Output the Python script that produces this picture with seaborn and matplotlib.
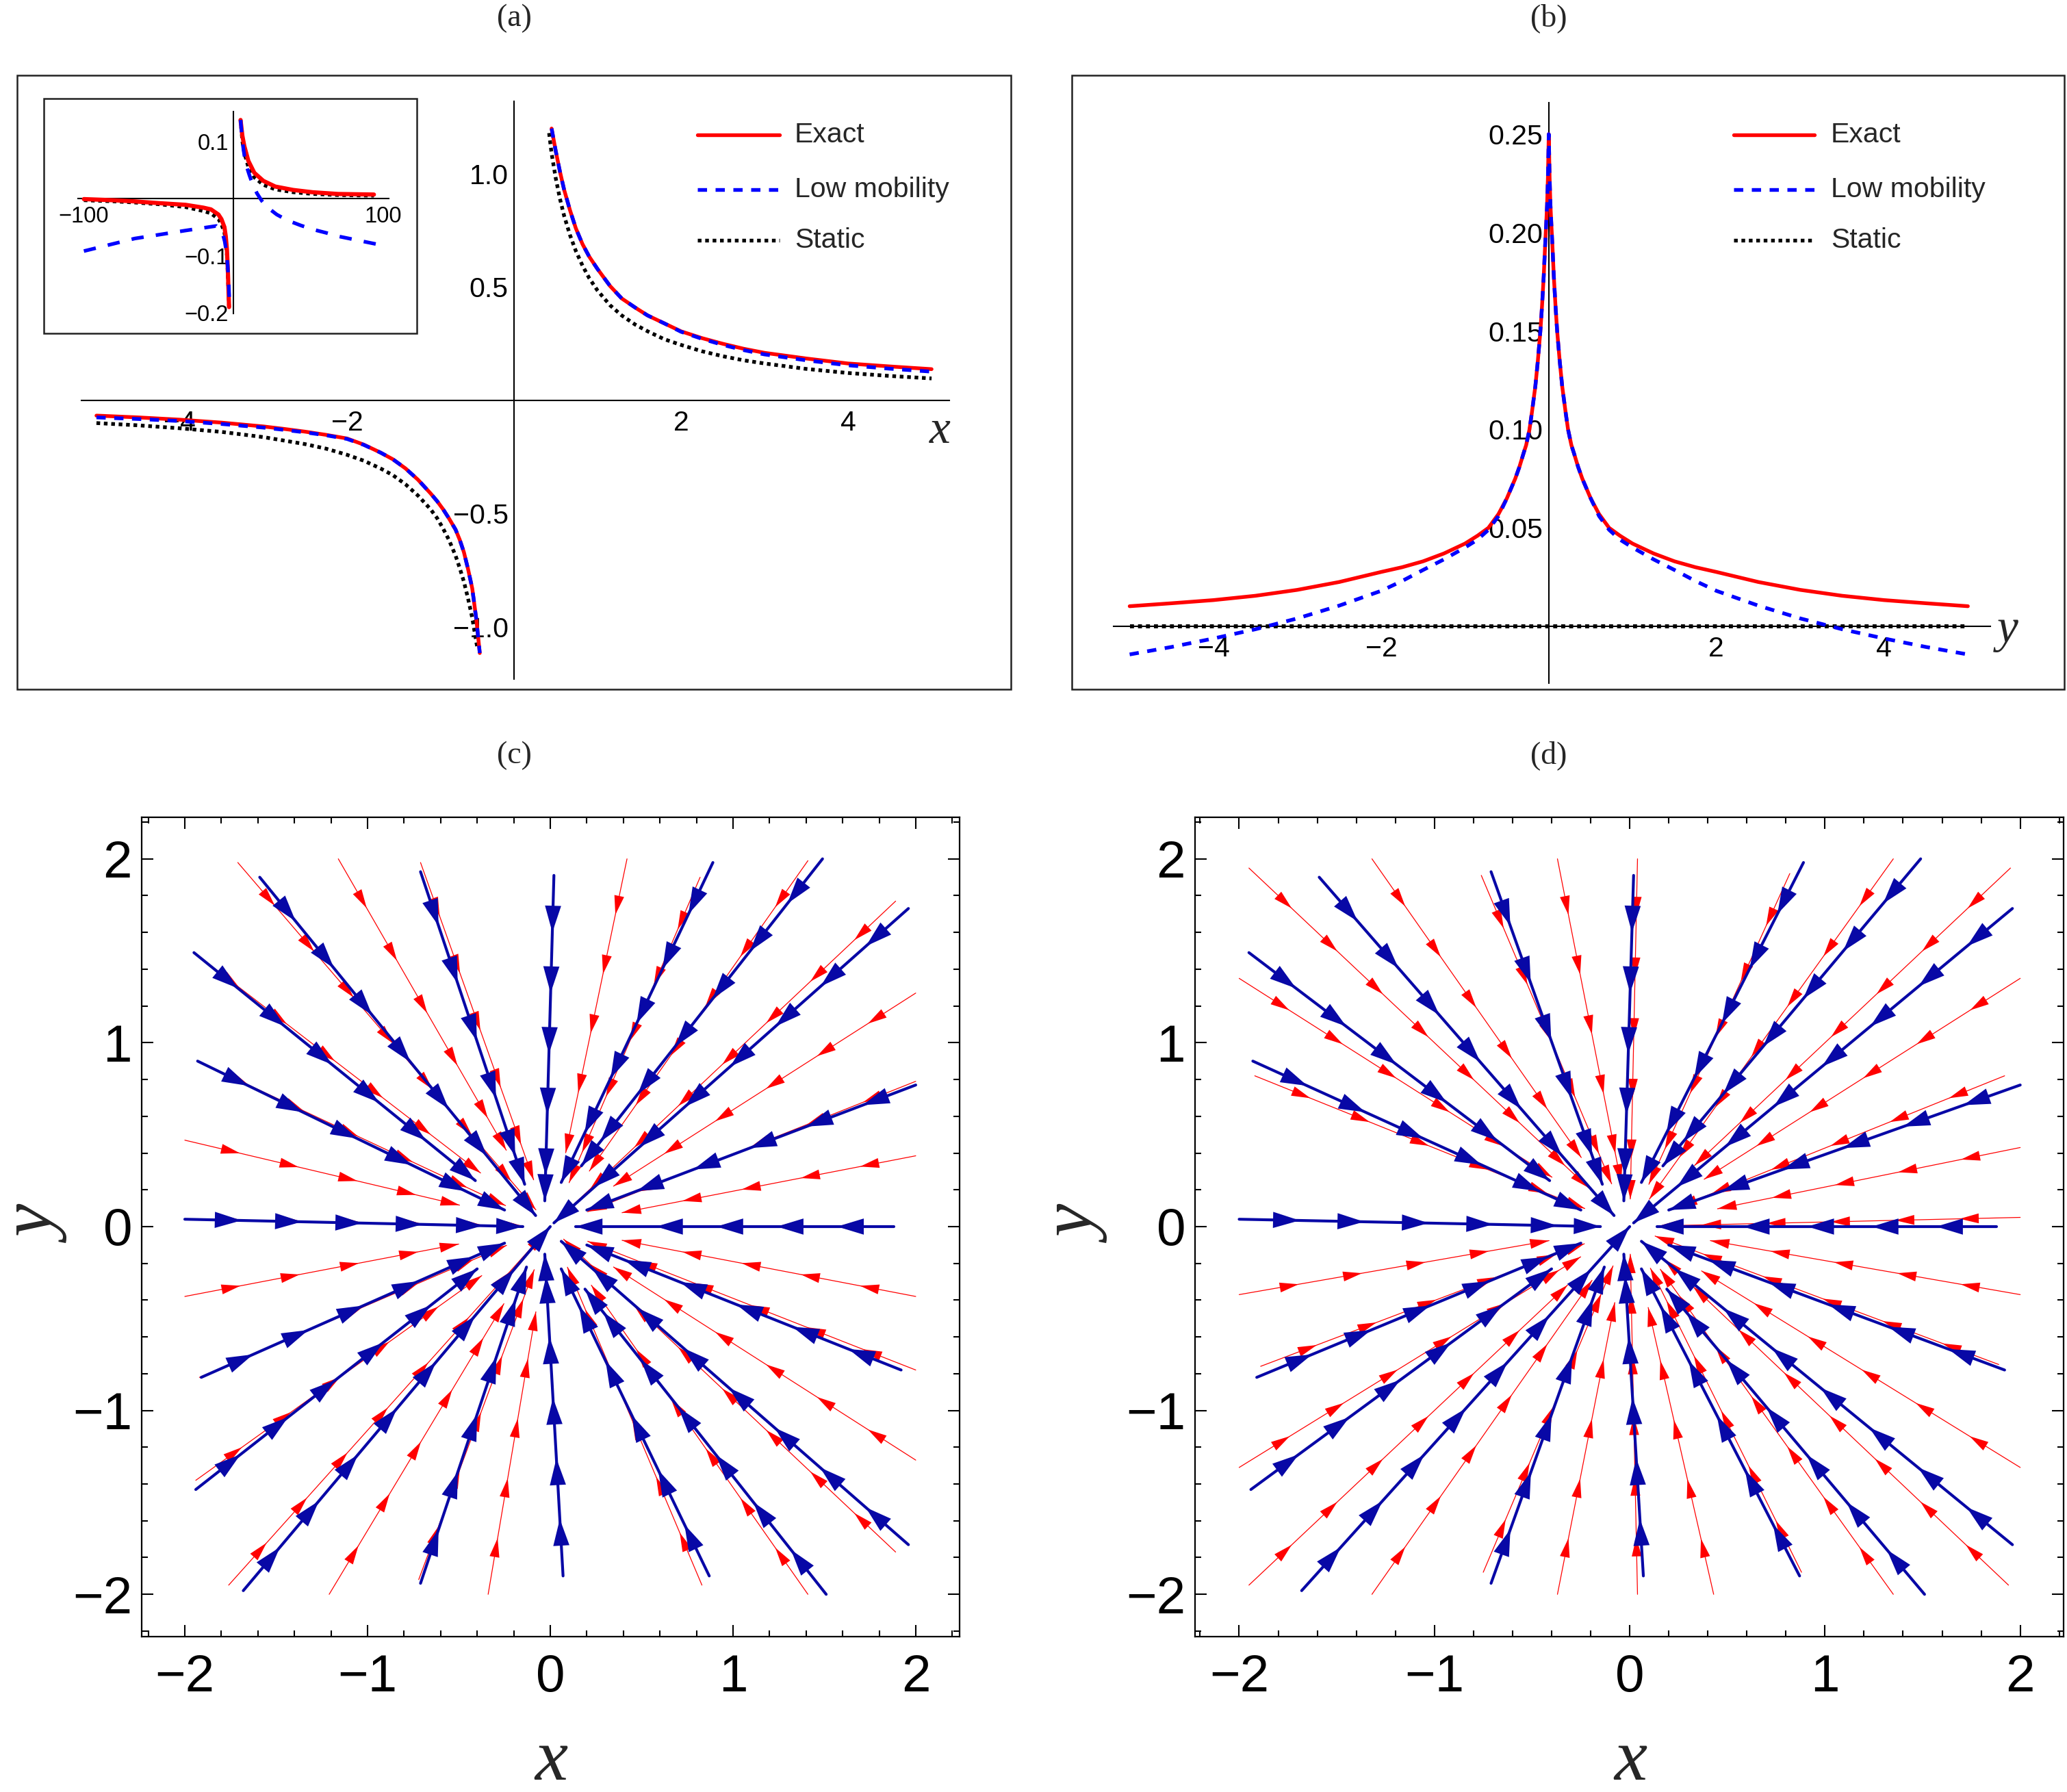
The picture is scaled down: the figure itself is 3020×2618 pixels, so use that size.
import numpy as np
import pandas as pd
import matplotlib
matplotlib.use("Agg")
import matplotlib.pyplot as plt
import seaborn as sns
from matplotlib.patches import Rectangle, ArrowStyle
from matplotlib.lines import Line2D
from matplotlib.ticker import FixedLocator

# ---------------- panel (a): main curves ----------------
a_pos_x = [0.45, 0.5, 0.55, 0.6, 0.67, 0.74, 0.82, 0.9, 1.0, 1.15, 1.29, 1.45, 1.6, 1.8, 2.0,
           2.25, 2.5, 2.75, 3.0, 3.5, 4.0, 4.5, 5.0]
a_exact_pos = [1.20, 1.10, 1.01, 0.93, 0.84, 0.76, 0.69, 0.635, 0.58, 0.505, 0.45, 0.41, 0.375, 0.34, 0.305,
               0.275, 0.25, 0.228, 0.21, 0.185, 0.163, 0.15, 0.138]
a_low_pos = [1.20, 1.10, 1.01, 0.93, 0.84, 0.76, 0.69, 0.635, 0.58, 0.505, 0.45, 0.41, 0.375, 0.34, 0.303,
             0.272, 0.245, 0.222, 0.203, 0.177, 0.155, 0.14, 0.127]
a_static_pos_x = [0.42, 0.45, 0.5, 0.55, 0.6, 0.67, 0.74, 0.82, 0.9, 1.0, 1.15, 1.29, 1.45, 1.6, 1.8, 2.0,
                  2.25, 2.5, 2.75, 3.0, 3.5, 4.0, 4.5, 5.0]
a_static_pos = [1.18, 1.09, 0.98, 0.89, 0.815, 0.73, 0.66, 0.595, 0.54, 0.485, 0.42, 0.375, 0.335, 0.305, 0.27, 0.245,
                0.217, 0.195, 0.177, 0.163, 0.139, 0.121, 0.108, 0.097]

a_neg_x = [-5.0, -4.5, -4.0, -3.5, -3.0, -2.75, -2.5, -2.25, -2.0, -1.8, -1.6, -1.45, -1.3, -1.15, -1.0,
           -0.92, -0.85, -0.78, -0.7, -0.65, -0.6, -0.55, -0.5, -0.45, -0.41]
a_exact_neg = [-0.067, -0.075, -0.085, -0.098, -0.115, -0.126, -0.138, -0.152, -0.168, -0.195, -0.23, -0.26, -0.30, -0.35, -0.41,
               -0.445, -0.48, -0.52, -0.57, -0.615, -0.67, -0.745, -0.83, -0.97, -1.115]
a_low_neg = [-0.075, -0.082, -0.091, -0.104, -0.12, -0.13, -0.141, -0.154, -0.17, -0.196, -0.23, -0.26, -0.30, -0.35, -0.41,
             -0.445, -0.48, -0.52, -0.57, -0.615, -0.67, -0.745, -0.83, -0.97, -1.115]
a_static_neg_x = [-5.0, -4.5, -4.0, -3.5, -3.0, -2.5, -2.25, -2.0, -1.8, -1.6, -1.45, -1.3, -1.15, -1.0,
                  -0.92, -0.85, -0.78, -0.7, -0.65, -0.6, -0.55, -0.5, -0.45, -0.435]
a_static_neg = [-0.10, -0.11, -0.123, -0.139, -0.162, -0.193, -0.213, -0.24, -0.266, -0.30, -0.33, -0.37, -0.42, -0.48,
                -0.52, -0.565, -0.615, -0.685, -0.74, -0.80, -0.875, -0.96, -1.07, -1.10]

# ---------------- panel (a): inset ----------------
in_pos_x = [4.8, 6, 7.3, 10, 14, 20, 28, 40, 53, 70, 94]
in_exact_pos = [0.1375, 0.11, 0.092, 0.066, 0.045, 0.031, 0.021, 0.015, 0.011, 0.008, 0.007]
in_static_pos = [0.1375, 0.10, 0.08, 0.055, 0.037, 0.024, 0.016, 0.011, 0.008, 0.006, 0.005]
in_neg_x = [-100, -80, -66, -50, -32, -20, -15, -10, -8, -6, -5.1, -4.3, -3.7, -2.9]
in_exact_neg = [-0.001, -0.003, -0.005, -0.008, -0.011, -0.016, -0.019, -0.028, -0.036, -0.050, -0.066, -0.09, -0.125, -0.19]
in_static_neg = [-0.003, -0.005, -0.007, -0.010, -0.015, -0.022, -0.026, -0.036, -0.045, -0.060, -0.076, -0.10, -0.135, -0.19]
in_low_pos_x = [4.8, 6, 7.3, 9, 10.7, 13, 15.8, 19, 22.6, 29, 36, 45, 53, 62, 70, 83, 96]
in_low_pos = [0.1375, 0.10, 0.076, 0.055, 0.041, 0.024, 0.009, -0.004, -0.015, -0.028, -0.038, -0.047, -0.054, -0.060, -0.066, -0.073, -0.080]
in_low_neg_x = [-100, -66, -32, -11.4, -8.5, -7.1, -5.8, -4.6, -3.8, -3.2, -2.5]
in_low_neg = [-0.092, -0.070, -0.056, -0.048, -0.055, -0.062, -0.075, -0.094, -0.118, -0.145, -0.19]

# ---------------- panel (b) ----------------
b_x = [-5.0, -4.5, -4.0, -3.5, -3.0, -2.5, -2.0, -1.75, -1.5, -1.25, -1.0, -0.85, -0.72, -0.6, -0.5, -0.4, -0.35,
       -0.3, -0.27, -0.23, -0.2, -0.16, -0.13, -0.1, -0.08, -0.06, -0.045, -0.03, -0.02, -0.01,
       0.0, 0.01, 0.02, 0.03, 0.045, 0.06, 0.08, 0.1, 0.13, 0.16, 0.2, 0.23, 0.27, 0.3,
       0.35, 0.4, 0.5, 0.6, 0.72, 0.85, 1.0, 1.25, 1.5, 1.75, 2.0, 2.5, 3.0, 3.5, 4.0, 4.5, 5.0]
b_exact = [0.0102, 0.0117, 0.0133, 0.0155, 0.0185, 0.0225, 0.0276, 0.030, 0.033, 0.037, 0.042, 0.046, 0.050, 0.057, 0.065, 0.075, 0.081,
           0.088, 0.092, 0.10, 0.109, 0.122, 0.135, 0.15, 0.163, 0.178, 0.192, 0.205, 0.214, 0.228,
           0.25, 0.228, 0.214, 0.205, 0.192, 0.178, 0.163, 0.15, 0.135, 0.122, 0.109, 0.10, 0.092, 0.088,
           0.081, 0.075, 0.065, 0.057, 0.050, 0.046, 0.042, 0.037, 0.033, 0.030, 0.0276, 0.0225, 0.0185, 0.0155, 0.0133, 0.0117, 0.0102]
b_low = [-0.0143, -0.0105, -0.0062, -0.0015, 0.004, 0.0105, 0.018, 0.023, 0.0286, 0.034, 0.040, 0.044, 0.049, 0.056, 0.065, 0.075, 0.081,
         0.088, 0.092, 0.10, 0.109, 0.122, 0.135, 0.15, 0.163, 0.178, 0.192, 0.205, 0.214, 0.228,
         0.25, 0.228, 0.214, 0.205, 0.192, 0.178, 0.163, 0.15, 0.135, 0.122, 0.109, 0.10, 0.092, 0.088,
         0.081, 0.075, 0.065, 0.056, 0.049, 0.044, 0.040, 0.034, 0.0286, 0.023, 0.018, 0.0105, 0.004, -0.0015, -0.0062, -0.0105, -0.0143]
b_static_x = [-5.0, 5.0]
b_static = [0.0, 0.0]

# ---------------- panels (c), (d): streamlines ----------------
# blue streamlines (same in both panels): outer start and inner end
blue_x0 = [-1.59, -0.71, 0.02, 0.89, 1.49, 1.96, 2.00, 1.88, 1.92, 1.96, 1.51, 0.87, 0.07, -0.71, -1.68, -1.94, -1.91, -2.00, -1.93, -1.95]
blue_y0 = [1.90, 1.93, 1.91, 1.98, 2.00, 1.73, 0.77, 0.00, -0.78, -1.73, -2.00, -1.90, -1.90, -1.94, -1.98, -1.43, -0.82, 0.04, 0.90, 1.49]
blue_x1 = [-0.08, -0.14, -0.03, 0.06, 0.17, 0.02, 0.20, 0.14, 0.20, 0.06, 0.19, 0.06, -0.03, -0.13, 0.00, -0.40, -0.25, -0.15, -0.25, -0.41]
blue_y1 = [0.06, 0.23, 0.14, 0.24, 0.33, 0.02, 0.09, 0.00, -0.10, -0.08, -0.34, -0.23, -0.15, -0.22, 0.00, -0.23, -0.09, 0.00, 0.09, 0.25]

# red streamlines (c): outer start and inner radius where they stop
red_c_x0 = [-1.71, -1.16, -0.71, 0.42, 0.82, 1.41, 1.89, 2.00, 2.00, 2.00, 1.88, 2.00, 2.00, 2.00, 1.89, 1.41, 0.83, -0.34, -1.21, -1.76, -1.94, -1.92, -2.00, -2.00, -2.00, -1.93, -1.95, -0.72]
red_c_y0 = [1.98, 2.00, 1.98, 2.00, 1.90, 1.99, 1.77, 1.27, 0.79, 0.385, 0.00, -0.38, -0.78, -1.27, -1.77, -2.00, -1.95, -2.00, -2.00, -1.95, -1.38, -0.82, -0.38, 0.04, 0.47, 0.90, 1.49, -1.92]
red_c_r1 = [0.12, 0.48, 0.27, 0.41, 0.26, 0.37, 0.05, 0.41, 0.22, 0.40, 0.14, 0.40, 0.22, 0.41, 0.10, 0.39, 0.24, 0.47, 0.49, 0.05, 0.46, 0.26, 0.51, 0.15, 0.51, 0.27, 0.48, 0.25]

# red streamlines (d)
red_d_x0 = [-1.95, -1.32, -0.76, -0.37, 0.04, 0.82, 1.35, 1.95, -2.00, -1.92, -2.00, -1.89, -2.00, 2.00, 1.92, 2.00, 2.00, 2.00, 1.89, 2.00, 1.94, -1.95, -1.32, -0.75, -0.37, 0.04, 0.43, 0.88, 1.35]
red_d_y0 = [1.95, 2.00, 1.91, 2.00, 2.00, 1.92, 2.00, 1.95, 1.35, 0.82, -0.37, -0.76, -1.31, 1.35, 0.82, 0.43, 0.05, -0.37, -0.75, -1.31, -1.95, -1.95, -2.00, -1.88, -2.00, -2.00, -2.00, -1.88, -2.00]
red_d_r1 = [0.30, 0.45, 0.25, 0.24, 0.15, 0.25, 0.18, 0.47, 0.48, 0.25, 0.42, 0.25, 0.30, 0.46, 0.27, 0.46, 0.15, 0.42, 0.14, 0.44, 0.25, 0.45, 0.35, 0.23, 0.42, 0.15, 0.45, 0.25, 0.28]

legend_labels = ["Exact", "Low mobility", "Static"]

# ---------------- style ----------------
W, H, DPI = 3020, 2618, 100
RED, BLUE, BLACK = "#ff0000", "#0000ff", "#000000"
SBLUE = "#0808a6"
DASH = (2.5, 2.3)
DOT = (1.0, 1.0)
LW = 3.9

sns.set_theme(style="white")
plt.rcParams["font.family"] = ["Liberation Sans", "DejaVu Sans"]
SERIF = ["Liberation Serif", "DejaVu Serif"]


def box(l, t, r, b):
    return [l / W, 1 - b / H, (r - l) / W, (b - t) / H]


def curve(ax, x, y, color, dashes=None, lw=LW, z=3):
    sns.lineplot(x=np.array(x, float), y=np.array(y, float), sort=False, estimator=None,
                 color=color, lw=lw, ax=ax, legend=False, zorder=z)
    ln = ax.lines[-1]
    ln.set_solid_joinstyle("round")
    if dashes is not None:
        ln.set_dashes(dashes)
        ln.set_dash_capstyle("butt")


def mathematica_axes(ax, xb, yb, xmaj, xmin, ymaj, ymin, xlab, ylab, fs, maj_len, min_len, xpad, ypad):
    for s in ["top", "right"]:
        ax.spines[s].set_visible(False)
    ax.spines["left"].set_position(("data", 0))
    ax.spines["bottom"].set_position(("data", 0))
    ax.spines["bottom"].set_bounds(*xb)
    ax.spines["left"].set_bounds(*yb)
    for s in ["left", "bottom"]:
        ax.spines[s].set_linewidth(1.5)
        ax.spines[s].set_color("black")
        ax.spines[s].set_zorder(2)
    ax.xaxis.set_major_locator(FixedLocator(xmaj))
    ax.xaxis.set_minor_locator(FixedLocator(xmin))
    ax.yaxis.set_major_locator(FixedLocator(ymaj))
    ax.yaxis.set_minor_locator(FixedLocator(ymin))
    ax.set_xticklabels(xlab)
    ax.set_yticklabels(ylab)
    ax.tick_params(which="both", direction="in", color="black", width=1.5, labelsize=fs, labelcolor="black")
    ax.tick_params(which="major", length=maj_len)
    ax.tick_params(which="minor", length=min_len)
    ax.tick_params(axis="x", pad=xpad)
    ax.tick_params(axis="y", pad=ypad)
    ax.set_xlabel("")
    ax.set_ylabel("")
    ax.grid(False)
    ax.add_patch(Rectangle((0, 0), 1, 1, transform=ax.transAxes, fill=False, lw=1.8,
                           ec="#222222", clip_on=False, zorder=6))


def legend(fig, x0, x1, xt, ys, fs):
    styles = [(RED, None), (BLUE, DASH), (BLACK, DOT)]
    for (c, d), yy, lab in zip(styles, ys, legend_labels):
        ln = Line2D([x0 / W, x1 / W], [1 - yy / H, 1 - yy / H], color=c, lw=LW,
                    transform=fig.transFigure)
        if d is not None:
            ln.set_dashes(d)
            ln.set_dash_capstyle("butt")
        fig.add_artist(ln)
        fig.text(xt / W, 1 - yy / H, lab, fontsize=fs, ha="left", va="center")


ARROW_STEP = 0.33
ARROW_FIRST = 0.31


def streams(ax, x0, y0, x1, y1, color, lw, hl, hw, z):
    rows = []
    for i in range(len(x0)):
        rows.append((i, x0[i], y0[i]))
        rows.append((i, x1[i], y1[i]))
    df = pd.DataFrame(rows, columns=["line", "x", "y"])
    sns.lineplot(data=df, x="x", y="y", units="line", estimator=None, sort=False,
                 color=color, lw=lw, ax=ax, legend=False, zorder=z)
    style = ArrowStyle("-|>", head_length=hl, head_width=hw)
    for i in range(len(x0)):
        dx, dy = x1[i] - x0[i], y1[i] - y0[i]
        L = np.hypot(dx, dy)
        ux, uy = dx / L, dy / L
        tips = list(np.arange(ARROW_FIRST, L - 0.12, ARROW_STEP)) + [L]
        for s in tips:
            tx, ty = x0[i] + ux * s, y0[i] + uy * s
            ax.annotate("", xy=(tx, ty), xytext=(tx - ux * 0.02, ty - uy * 0.02),
                        arrowprops=dict(arrowstyle=style, color=color, lw=0, shrinkA=0, shrinkB=0,
                                        mutation_scale=1), zorder=z + 0.5)


def ends_from_radius(x0, y0, r1):
    ex, ey = [], []
    for x, y, r in zip(x0, y0, r1):
        n = np.hypot(x, y)
        ex.append(x * r / n)
        ey.append(y * r / n)
    return ex, ey


def frame_axes(ax):
    for s in ax.spines.values():
        s.set_visible(True)
        s.set_linewidth(1.6)
        s.set_color("black")
    ax.set_xticks([-2, -1, 0, 1, 2])
    ax.set_yticks([-2, -1, 0, 1, 2])
    ax.set_xticklabels(["\u22122", "\u22121", "0", "1", "2"])
    ax.set_yticklabels(["\u22122", "\u22121", "0", "1", "2"])
    minors = list(np.round(np.arange(-2.2, 2.21, 0.2), 2))
    ax.xaxis.set_minor_locator(FixedLocator(minors))
    ax.yaxis.set_minor_locator(FixedLocator(minors))
    ax.tick_params(which="both", direction="in", top=True, right=True, bottom=True, left=True,
                   color="black", width=1.5, labelsize=55, labelcolor="black")
    ax.tick_params(which="major", length=12)
    ax.tick_params(which="minor", length=6.5)
    ax.tick_params(axis="x", pad=18)
    ax.tick_params(axis="y", pad=10)
    ax.set_xlabel("")
    ax.set_ylabel("")
    ax.grid(False)


fig = plt.figure(figsize=(W / DPI, H / DPI), dpi=DPI)
fig.patch.set_facecolor("white")

# ---------------- (a) ----------------
ax_a = fig.add_axes(box(25, 110, 1477, 1007))
ax_a.set_facecolor("white")
curve(ax_a, a_static_pos_x, a_static_pos, BLACK, DOT, z=3)
curve(ax_a, a_static_neg_x, a_static_neg, BLACK, DOT, z=3)
curve(ax_a, a_pos_x, a_exact_pos, RED, None, z=4)
curve(ax_a, a_neg_x, a_exact_neg, RED, None, z=4)
curve(ax_a, a_pos_x, a_low_pos, BLUE, DASH, z=5)
curve(ax_a, a_neg_x, a_low_neg, BLUE, DASH, z=5)
ax_a.set_xlim(-5.95, 5.95)
ax_a.set_ylim(-1.275, 1.435)
mathematica_axes(ax_a, (-5.18, 5.21), (-1.23, 1.32),
                 [-4, -2, 2, 4], list(np.arange(-5, 5.01, 0.5)),
                 [-1.0, -0.5, 0.5, 1.0], list(np.round(np.arange(-1.2, 1.31, 0.1), 2)),
                 ["\u22124", "\u22122", "2", "4"], ["\u22121.0", "\u22120.5", "0.5", "1.0"],
                 29.5, 22, 10, 10, 6)
fig.text(1373 / W, 1 - 630 / H, "x", family=SERIF, style="italic", fontsize=50, ha="center", va="center")
legend(fig, 1019, 1139, 1161, [197, 277, 351], 29.5)

# inset
ax_i = fig.add_axes(box(64, 144, 609, 487))
ax_i.set_facecolor("white")
curve(ax_i, in_pos_x, in_static_pos, BLACK, DOT, lw=3.8, z=3)
curve(ax_i, in_neg_x, in_static_neg, BLACK, DOT, lw=3.8, z=3)
curve(ax_i, in_pos_x, in_exact_pos, RED, None, lw=4.4, z=4)
curve(ax_i, in_neg_x, in_exact_neg, RED, None, lw=4.4, z=4)
curve(ax_i, in_low_pos_x, in_low_pos, BLUE, (3.4, 3.4), lw=3.8, z=5)
curve(ax_i, in_low_neg_x, in_low_neg, BLUE, (3.4, 3.4), lw=3.8, z=5)
ax_i.set_xlim(-126.8, 122.7)
ax_i.set_ylim(-0.236, 0.175)
mathematica_axes(ax_i, (-104, 104), (-0.201, 0.152),
                 [-100, -50, 50, 100], list(np.arange(-100, 101, 10)),
                 [-0.2, -0.1, 0.1], list(np.round(np.arange(-0.2, 0.141, 0.02), 2)),
                 ["\u2212100", "", "", "100"], ["\u22120.2", "\u22120.1", "0.1"],
                 23.5, 10, 5, 8, 5)

# ---------------- (b) ----------------
ax_b = fig.add_axes(box(1566, 110, 3016, 1007))
ax_b.set_facecolor("white")
curve(ax_b, b_x, b_exact, RED, None, z=4)
curve(ax_b, b_x, b_low, BLUE, DASH, z=5)
curve(ax_b, b_static_x, b_static, BLACK, DOT, lw=4.2, z=3)
ax_b.set_xlim(-5.69, 6.15)
ax_b.set_ylim(-0.032, 0.2799)
mathematica_axes(ax_b, (-5.19, 5.27), (-0.029, 0.266),
                 [-4, -2, 2, 4], list(np.arange(-5, 5.01, 0.5)),
                 [0.05, 0.10, 0.15, 0.20, 0.25], list(np.round(np.arange(-0.02, 0.261, 0.01), 2)),
                 ["\u22124", "\u22122", "2", "4"], ["0.05", "0.10", "0.15", "0.20", "0.25"],
                 29.5, 22, 10, 10, 6)
fig.text(2933 / W, 1 - 921 / H, "y", family=SERIF, style="italic", fontsize=50, ha="center", va="center")
legend(fig, 2533, 2651, 2675, [197, 277, 351], 29.5)

# ---------------- (c) ----------------
ax_c = fig.add_axes(box(207, 1194, 1402, 2391))
rcx, rcy = ends_from_radius(red_c_x0, red_c_y0, red_c_r1)
streams(ax_c, red_c_x0, red_c_y0, rcx, rcy, RED, 0.9, 20, 5.2, 2)
streams(ax_c, blue_x0, blue_y0, blue_x1, blue_y1, SBLUE, 3.0, 28, 8.5, 3)
ax_c.set_xlim(-2.236, 2.24)
ax_c.set_ylim(-2.23, 2.226)
frame_axes(ax_c)

# ---------------- (d) ----------------
ax_d = fig.add_axes(box(1746, 1194, 3015, 2391))
rdx, rdy = ends_from_radius(red_d_x0, red_d_y0, red_d_r1)
streams(ax_d, red_d_x0, red_d_y0, rdx, rdy, RED, 0.9, 20, 5.2, 2)
streams(ax_d, blue_x0, blue_y0, blue_x1, blue_y1, SBLUE, 3.0, 28, 8.5, 3)
ax_d.set_xlim(-2.226, 2.222)
ax_d.set_ylim(-2.23, 2.226)
frame_axes(ax_d)

# axis labels and panel tags
for cx in (805, 2382):
    fig.text(cx / W, 1 - 2574 / H, "x", family=SERIF, style="italic", fontsize=78, ha="center", va="center")
for cx in (58, 1578):
    fig.text(cx / W, 1 - 1792 / H, "y", family=SERIF, style="italic", fontsize=78, rotation=90,
             ha="center", va="center")
for tag, cx, cy in [("(a)", 751, 27), ("(b)", 2263, 27), ("(c)", 751, 1104), ("(d)", 2263, 1104)]:
    fig.text(cx / W, 1 - cy / H, tag, family=SERIF, fontsize=33, ha="center", va="center")

fig.savefig("out.png", dpi=DPI, facecolor="white")
